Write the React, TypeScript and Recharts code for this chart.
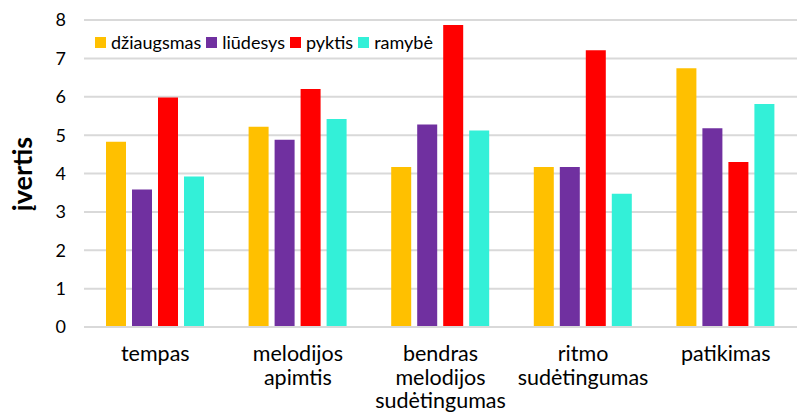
import React from 'react';
import { BarChart, Bar, XAxis, YAxis, CartesianGrid } from 'recharts';

const categories = ['tempas', 'melodijos\napimtis', 'bendras\nmelodijos\nsudėtingumas', 'ritmo\nsudėtingumas', 'patikimas'];
const dziaugsmas = [4.83, 5.22, 4.17, 4.17, 6.74];
const liudesys = [3.58, 4.88, 5.28, 4.17, 5.18];
const pyktis = [5.98, 6.2, 7.87, 7.21, 4.3];
const ramybe = [3.92, 5.42, 5.12, 3.47, 5.81];
const yTicks = [0, 1, 2, 3, 4, 5, 6, 7, 8];

const SERIES = [
  { key: 'dziaugsmas', name: 'džiaugsmas', color: '#FFC000' },
  { key: 'liudesys', name: 'liūdesys', color: '#7030A0' },
  { key: 'pyktis', name: 'pyktis', color: '#FF0000' },
  { key: 'ramybe', name: 'ramybė', color: '#33F0D8' },
];

const data = categories.map((c, i) => ({
  name: c,
  dziaugsmas: dziaugsmas[i],
  liudesys: liudesys[i],
  pyktis: pyktis[i],
  ramybe: ramybe[i],
}));

const FONT = 'Lato, "Noto Sans", sans-serif';

const CategoryTick = (props: any) => {
  const { x, y, payload } = props;
  const lines = String(payload.value).split('\n');
  return (
    <text x={x} y={y} textAnchor="middle" fontFamily={FONT} fontSize={21.5} fill="#000">
      {lines.map((l, i) => (
        <tspan key={i} x={x} dy={i === 0 ? 26 : 23.5}>{l}</tspan>
      ))}
    </text>
  );
};

const App: React.FC = () => {
  return (
    <div style={{ position: 'absolute', left: 0, top: 0, width: 797, height: 412, background: '#fff' }}>
      <BarChart width={797} height={412} data={data} margin={{ top: 20, right: 0, left: 0, bottom: 0 }} barSize={20} barGap={6}>
        <CartesianGrid vertical={false} stroke="#d9d9d9" strokeWidth={2} />
        <XAxis dataKey="name" height={85} axisLine={{ stroke: '#d9d9d9', strokeWidth: 2 }} tickLine={false} tick={<CategoryTick />} interval={0} />
        <YAxis domain={[0, 8]} ticks={yTicks} width={84} axisLine={false} tickLine={false} tickSize={0} tickMargin={18}
          tick={{ fontFamily: FONT, fontSize: 18, fill: '#000' }} />
        {SERIES.map(s => (
          <Bar key={s.key} dataKey={s.key} name={s.name} fill={s.color} isAnimationActive={false} />
        ))}
        <text x={21} y={174} transform="rotate(-90 21 174)" textAnchor="middle" dominantBaseline="central"
          fontFamily={FONT} fontSize={27} fontWeight="bold" fill="#000">įvertis</text>
      </BarChart>
      <div style={{ position: 'absolute', top: 31, left: 95, display: 'flex', alignItems: 'center', fontFamily: FONT, fontSize: 18, color: '#000', lineHeight: '22px' }}>
        {SERIES.map(s => (
          <div key={s.key} style={{ display: 'flex', alignItems: 'center', marginRight: 5 }}>
            <span style={{ width: 11, height: 11, background: s.color, display: 'inline-block', marginRight: 5 }} />
            <span>{s.name}</span>
          </div>
        ))}
      </div>
    </div>
  );
};

export default App;
